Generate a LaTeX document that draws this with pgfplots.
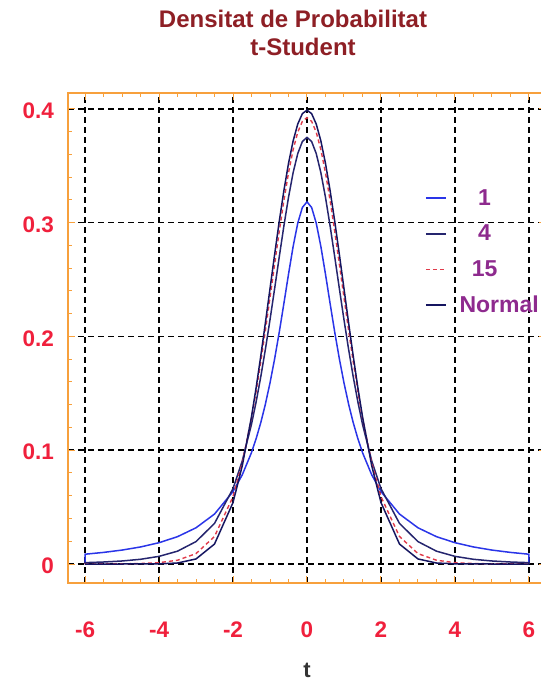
\documentclass[border=0pt]{standalone}
\usepackage{fontspec}
\setmainfont{Liberation Sans}
\usepackage{pgfplots}
\pgfplotsset{compat=1.18}
\definecolor{frameorange}{HTML}{F7A03C}
\definecolor{titlered}{HTML}{8E1F25}
\definecolor{ticksred}{HTML}{F0203C}
\definecolor{legpurple}{HTML}{8E2A8E}
\definecolor{cblue}{HTML}{2A35E8}
\definecolor{cnavy}{HTML}{25256E}
\definecolor{cnavyd}{HTML}{151560}
\definecolor{cred}{HTML}{E03A4A}
\begin{document}
\begin{tikzpicture}[x=1pt,y=1pt]
\clip (0,0) rectangle (541,686);
\node[text=titlered, font=\fontsize{24}{24}\selectfont\bfseries] at (293,667) {Densitat de Probabilitat};
\node[text=titlered, font=\fontsize{24}{24}\selectfont\bfseries] at (303,639) {t-Student};
\begin{axis}[
  at={(68pt,103pt)}, anchor=south west,
  scale only axis, width=478pt, height=490pt,
  xmin=-6.46, xmax=6.46, ymin=-0.0167, ymax=0.414,
  xtick={-6,-4,-2,0,2,4,6},
  ytick={0,0.1,0.2,0.3,0.4},
  minor x tick num=3, minor y tick num=4,
  tick align=inside,
  major tick length=7pt, minor tick length=4pt,
  tick style={draw=frameorange, line width=1pt},
  axis line style={draw=frameorange, line width=2pt},
  grid=major,
  major grid style={black, dash pattern=on 6pt off 4pt, line width=1.6pt},
  /pgf/number format/assume math mode=true,
  ticklabel style={font=\fontsize{22.5}{22.5}\selectfont\bfseries, text=ticksred},
  xticklabel style={anchor=center, yshift=-47pt},
  yticklabel style={anchor=east, xshift=-14pt, yshift=-2pt, inner sep=0pt},
  yticklabel style={/pgf/number format/fixed},
  xlabel={t},
  xlabel style={at={(axis description cs:0.5,0)}, anchor=center, yshift=-87pt, font=\fontsize{22}{22}\selectfont\bfseries, text=black!80},
  legend style={draw=none, fill=none, at={(axis description cs:0.747,0.822)}, anchor=north west,
    inner sep=0pt, outer sep=0pt, row sep=0pt, column sep=13pt,
    font=\fontsize{23}{23}\selectfont\bfseries, text=legpurple,
    nodes={inner sep=0pt, minimum height=35.7pt}},
  legend cell align=left,
  legend image code/.code={\draw[#1] (0pt,0pt) -- (20pt,0pt);},
]
% nu = 1
\addplot[cblue, line width=1.5pt] coordinates {
(-6,0) (-6,0.00860) (-5.5,0.01019) (-5,0.01224) (-4.5,0.01498) (-4,0.01872) (-3.5,0.02402) (-3,0.03183) (-2.5,0.04390) (-2,0.06366) (-1.75,0.07835) (-1.5,0.09794) (-1.375,0.11012) (-1.25,0.12422) (-1.125,0.14050) (-1,0.15915) (-0.875,0.18028) (-0.75,0.20372) (-0.625,0.22890) (-0.5,0.25465) (-0.375,0.27907) (-0.25,0.29959) (-0.125,0.31341) (0,0.31831)
(0.125,0.31341) (0.25,0.29959) (0.375,0.27907) (0.5,0.25465) (0.625,0.22890) (0.75,0.20372) (0.875,0.18028) (1,0.15915) (1.125,0.14050) (1.25,0.12422) (1.375,0.11012) (1.5,0.09794) (1.75,0.07835) (2,0.06366) (2.5,0.04390) (3,0.03183) (3.5,0.02402) (4,0.01872) (4.5,0.01498) (5,0.01224) (5.5,0.01019) (6,0.00860) (6,0)
};
\addlegendentry{\makebox[50pt][c]{1}}
% nu = 4
\addplot[cnavy, line width=1.5pt] coordinates {
(-6,0) (-6,0.00119) (-5.5,0.00175) (-5,0.00265) (-4.5,0.00414) (-4,0.00671) (-3.5,0.01127) (-3,0.01969) (-2.5,0.03567) (-2,0.06629) (-1.75,0.09052) (-1.5,0.12288) (-1.375,0.14249) (-1.25,0.16445) (-1.125,0.18861) (-1,0.21466) (-0.875,0.24204) (-0.75,0.26989) (-0.625,0.29707) (-0.5,0.32226) (-0.375,0.34397) (-0.25,0.36074) (-0.125,0.37136) (0,0.37500)
(0.125,0.37136) (0.25,0.36074) (0.375,0.34397) (0.5,0.32226) (0.625,0.29707) (0.75,0.26989) (0.875,0.24204) (1,0.21466) (1.125,0.18861) (1.25,0.16445) (1.375,0.14249) (1.5,0.12288) (1.75,0.09052) (2,0.06629) (2.5,0.03567) (3,0.01969) (3.5,0.01127) (4,0.00671) (4.5,0.00414) (5,0.00265) (5.5,0.00175) (6,0.00119) (6,0)
};
\addlegendentry{\makebox[50pt][c]{4}}
% nu = 15
\addplot[cred, line width=1.4pt, dash pattern=on 4pt off 3pt] coordinates {
(-6,0) (-6,0.00002) (-5.5,0.00006) (-5,0.00015) (-4.5,0.00042) (-4,0.00118) (-3.5,0.00331) (-3,0.00913) (-2.5,0.02418) (-2,0.05920) (-1.75,0.08876) (-1.5,0.12826) (-1.375,0.15180) (-1.25,0.17759) (-1.125,0.20524) (-1,0.23413) (-0.875,0.26346) (-0.75,0.29228) (-0.625,0.31942) (-0.5,0.34376) (-0.375,0.36414) (-0.25,0.37952) (-0.125,0.38911) (0,0.39236)
(0.125,0.38911) (0.25,0.37952) (0.375,0.36414) (0.5,0.34376) (0.625,0.31942) (0.75,0.29228) (0.875,0.26346) (1,0.23413) (1.125,0.20524) (1.25,0.17759) (1.375,0.15180) (1.5,0.12826) (1.75,0.08876) (2,0.05920) (2.5,0.02418) (3,0.00913) (3.5,0.00331) (4,0.00118) (4.5,0.00042) (5,0.00015) (5.5,0.00006) (6,0.00002) (6,0)
};
\addlegendentry{\makebox[50pt][c]{15}}
% Normal
\addplot[cnavyd, line width=1.5pt] coordinates {
(-6,0) (-6,0.00000) (-5.5,0.00000) (-5,0.00000) (-4.5,0.00002) (-4,0.00013) (-3.5,0.00087) (-3,0.00443) (-2.5,0.01753) (-2,0.05399) (-1.75,0.08628) (-1.5,0.12952) (-1.375,0.15502) (-1.25,0.18265) (-1.125,0.21188) (-1,0.24197) (-0.875,0.27205) (-0.75,0.30114) (-0.625,0.32816) (-0.5,0.35207) (-0.375,0.37186) (-0.25,0.38667) (-0.125,0.39584) (0,0.39894)
(0.125,0.39584) (0.25,0.38667) (0.375,0.37186) (0.5,0.35207) (0.625,0.32816) (0.75,0.30114) (0.875,0.27205) (1,0.24197) (1.125,0.21188) (1.25,0.18265) (1.375,0.15502) (1.5,0.12952) (1.75,0.08628) (2,0.05399) (2.5,0.01753) (3,0.00443) (3.5,0.00087) (4,0.00013) (4.5,0.00002) (5,0.00000) (5.5,0.00000) (6,0.00000) (6,0)
};
\addlegendentry{Normal}
\end{axis}
\end{tikzpicture}
\end{document}
